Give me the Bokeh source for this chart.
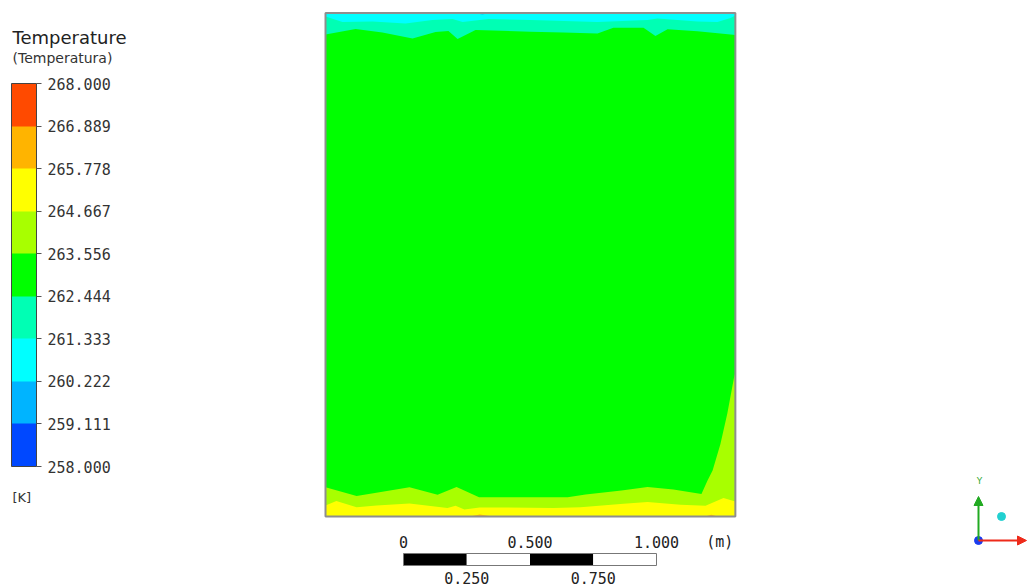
from bokeh.plotting import figure
from bokeh.models import (Range1d, ColorBar, LinearColorMapper, FixedTicker,
                          PrintfTickFormatter, Label, Arrow, NormalHead, ColumnDataSource)
from bokeh.core.properties import value
from bokeh.embed import file_html
from bokeh.resources import INLINE

# ---------------- data ----------------
levels = [258.000, 259.111, 260.222, 261.333, 262.444, 263.556,
          264.667, 265.778, 266.889, 268.000]
band_colors = ["#0048ff", "#00b4ff", "#00ffff", "#00ffb4", "#00ff00",
               "#a8ff00", "#ffff00", "#ffb400", "#ff4a00"]

domain_w = 1.62   # m
domain_h = 1.99   # m

# cyan / aquamarine iso-line near the top wall
cyan_x = [0.0, 0.067, 0.186, 0.316, 0.423, 0.502, 0.542, 0.644, 0.810, 1.075,
          1.273, 1.312, 1.470, 1.549, 1.601, 1.620]
cyan_y = [1.976, 1.955, 1.957, 1.949, 1.962, 1.966, 1.955, 1.966, 1.962, 1.955,
          1.962, 1.968, 1.957, 1.955, 1.970, 1.980]

# aquamarine / green iso-line near the top wall
aqua_x = [0.0, 0.119, 0.225, 0.344, 0.435, 0.486, 0.522, 0.593, 0.810, 0.941,
          1.075, 1.138, 1.257, 1.304, 1.352, 1.470, 1.601, 1.620]
aqua_y = [1.905, 1.927, 1.913, 1.889, 1.915, 1.919, 1.887, 1.923, 1.916, 1.913,
          1.909, 1.932, 1.932, 1.899, 1.926, 1.918, 1.905, 1.903]

# green / yellow-green iso-line near the bottom wall and right wall
yg_x = [0.0, 0.123, 0.213, 0.332, 0.443, 0.518, 0.607, 0.818, 0.957, 1.028,
        1.170, 1.273, 1.375, 1.486, 1.510, 1.530, 1.561, 1.588, 1.614, 1.620]
yg_y = [0.116, 0.081, 0.096, 0.116, 0.086, 0.117, 0.076, 0.076, 0.076, 0.087,
        0.103, 0.117, 0.107, 0.089, 0.142, 0.182, 0.287, 0.406, 0.545, 0.569]

# yellow-green / yellow iso-line near the bottom wall
yel_x = [0.0, 0.043, 0.123, 0.202, 0.332, 0.482, 0.514, 0.549, 0.609, 0.901,
         1.008, 1.178, 1.273, 1.403, 1.502, 1.573, 1.620]
yel_y = [0.043, 0.061, 0.037, 0.043, 0.051, 0.034, 0.042, 0.028, 0.036, 0.034,
         0.037, 0.050, 0.057, 0.046, 0.042, 0.073, 0.059]

# small warm spots on the bottom wall, small cold spot on the top wall
warm_xs = [[0.57, 0.61, 0.66], [1.50, 1.525, 1.55]]
warm_ys = [[0.0, 0.008, 0.0], [0.0, 0.007, 0.0]]
cold_x = [0.59, 0.62, 0.65]
cold_y = [1.99, 1.984, 1.99]

# scale bar (m)
scale_ticks = [0.0, 0.25, 0.5, 0.75, 1.0]
scale_top_labels = ["0", "0.500", "1.000"]
scale_bottom_labels = ["0.250", "0.750"]

# ---------------- figure ----------------
PX = 253.0                    # pixels per metre
W, H = 1036, 586
x0 = -325.0 / PX
y0 = -(H - 516.0) / PX
p = figure(width=W, height=H, x_range=Range1d(x0, x0 + W / PX),
           y_range=Range1d(y0, y0 + H / PX), toolbar_location=None,
           output_backend="svg", x_axis_type=None, y_axis_type=None,
           min_border=0, outline_line_color=None)
p.grid.visible = False
p.background_fill_color = "white"
p.border_fill_color = "white"

def c(t):
    i = 0
    while levels[i + 1] < t:
        i += 1
    return band_colors[i]

# base band
p.quad(left=0, right=domain_w, bottom=0, top=domain_h,
       fill_color=c(263.0), line_color=None)
# top bands
p.patch(x=aqua_x + [domain_w, 0.0], y=aqua_y + [domain_h, domain_h],
        fill_color=c(261.9), line_color=None)
p.patch(x=cyan_x + [domain_w, 0.0], y=cyan_y + [domain_h, domain_h],
        fill_color=c(260.8), line_color=None)
p.patch(x=cold_x, y=cold_y, fill_color=c(259.7), line_color=None)
# bottom bands
p.patch(x=yg_x + [domain_w, 0.0], y=yg_y + [0.0, 0.0],
        fill_color=c(264.1), line_color=None)
p.patch(x=yel_x + [domain_w, 0.0], y=yel_y + [0.0, 0.0],
        fill_color=c(265.2), line_color=None)
p.patches(xs=warm_xs, ys=warm_ys, fill_color=c(266.3), line_color=None)
# domain outline
p.quad(left=0, right=domain_w, bottom=0, top=domain_h,
       fill_color=None, line_color="#8e8e8e", line_width=2)

# ---------------- colour bar ----------------
mapper = LinearColorMapper(palette=band_colors, low=levels[0], high=levels[-1])
cb = ColorBar(color_mapper=mapper, ticker=FixedTicker(ticks=levels),
              formatter=PrintfTickFormatter(format="%.3f"),
              location=(11, H - 466), width=25, height=383, padding=0, margin=0,
              orientation="vertical", major_tick_in=0, major_tick_out=5,
              major_tick_line_color="#555555", bar_line_color="#444444",
              bar_line_width=1, label_standoff=6,
              major_label_text_font="DejaVu Sans Mono",
              major_label_text_font_size="15px",
              major_label_text_color="#333333",
              background_fill_color=None, border_line_color=None)
p.add_layout(cb)

p.add_layout(Label(x=12, y=H - 37, x_units="screen", y_units="screen",
                   text="Temperature", text_font="DejaVu Sans",
                   text_font_size="18px", text_color="#222222",
                   text_baseline="middle"))
p.add_layout(Label(x=12, y=H - 57, x_units="screen", y_units="screen",
                   text="(Temperatura)", text_font="DejaVu Sans",
                   text_font_size="14px", text_color="#333333",
                   text_baseline="middle"))
p.add_layout(Label(x=12, y=H - 497, x_units="screen", y_units="screen",
                   text="[K]", text_font="DejaVu Sans",
                   text_font_size="13px", text_color="#333333",
                   text_baseline="middle"))

# ---------------- scale bar ----------------
sb_x = 78.0 / PX          # left end of the bar, m
sb_top = -37.0 / PX
sb_bot = -49.0 / PX
seg = ColumnDataSource(dict(
    left=[sb_x + t for t in scale_ticks[:-1]],
    right=[sb_x + t for t in scale_ticks[1:]],
    color=["black" if i % 2 == 0 else "white" for i in range(len(scale_ticks) - 1)]))
p.quad(left="left", right="right", bottom=sb_bot, top=sb_top, source=seg,
       fill_color="color", line_color=None)
p.quad(left=sb_x, right=sb_x + scale_ticks[-1], bottom=sb_bot, top=sb_top,
       fill_color=None, line_color="#777777", line_width=1)

top_src = ColumnDataSource(dict(x=[sb_x + t for t in scale_ticks[0::2]],
                                text=scale_top_labels))
p.text(x="x", y=-25.0 / PX, text="text", source=top_src,
       text_font=value("DejaVu Sans Mono"), text_font_size="15px",
       text_color="#222222", text_align="center", text_baseline="middle")
p.text(x=[sb_x + scale_ticks[-1] + 0.25], y=[-25.0 / PX], text=["(m)"],
       text_font=value("DejaVu Sans Mono"), text_font_size="15px",
       text_color="#222222", text_align="center", text_baseline="middle")
bot_src = ColumnDataSource(dict(x=[sb_x + t for t in scale_ticks[1::2]],
                                text=scale_bottom_labels))
p.text(x="x", y=-61.0 / PX, text="text", source=bot_src,
       text_font=value("DejaVu Sans Mono"), text_font_size="15px",
       text_color="#222222", text_align="center", text_baseline="middle")

# ---------------- axis triad ----------------
ox, oy = 978, H - 540
p.add_layout(Arrow(x_start=ox, y_start=oy, x_end=ox, y_end=oy + 44,
                   start_units="screen", end_units="screen",
                   line_color="#22aa22", line_width=2,
                   end=NormalHead(size=9, fill_color="#22aa22", line_color="#22aa22")))
p.add_layout(Arrow(x_start=ox, y_start=oy, x_end=ox + 48, y_end=oy,
                   start_units="screen", end_units="screen",
                   line_color="#ee2a1a", line_width=2,
                   end=NormalHead(size=9, fill_color="#ee2a1a", line_color="#ee2a1a")))
p.add_layout(Label(x=ox + 1, y=oy + 60, x_units="screen", y_units="screen", text="Y",
                   text_font="DejaVu Sans", text_font_size="9px",
                   text_color="#33aa33", text_align="center", text_baseline="middle"))
p.scatter(x=[x0 + ox / PX], y=[y0 + oy / PX], size=8, color="#1a3cf0")
p.scatter(x=[x0 + (ox + 23) / PX], y=[y0 + (oy + 24) / PX], size=8, color="#22d0d0")

open("out.html", "w").write(file_html(p, INLINE))
